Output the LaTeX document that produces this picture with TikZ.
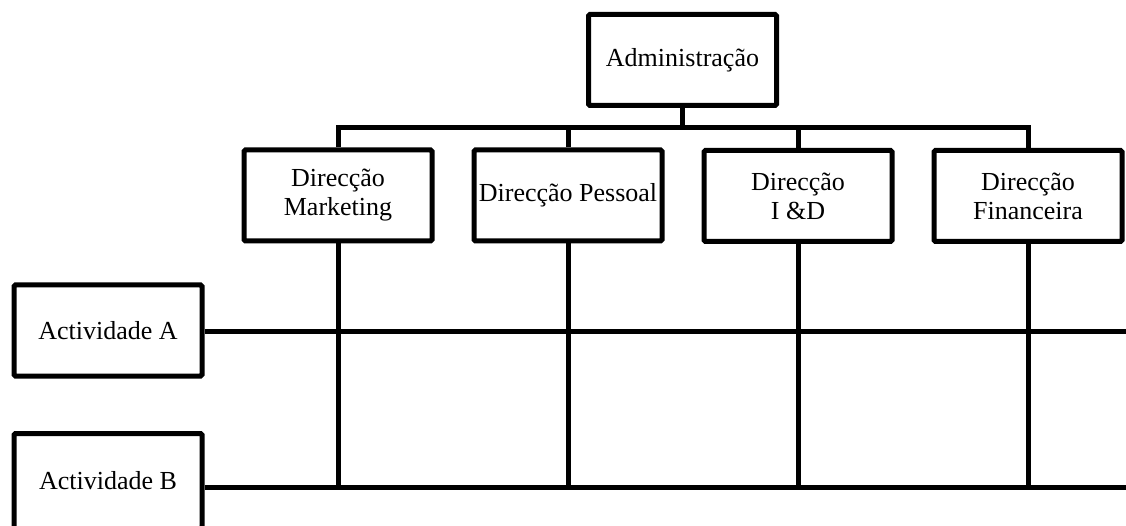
\documentclass[tikz,border=0pt]{standalone}
\usepackage{fontspec}
\setmainfont{Liberation Serif}
\begin{document}
\begin{tikzpicture}[x=1pt,y=-1pt,
  box/.style={draw,line width=5pt,rounded corners=1.5pt,inner sep=0pt,align=center,
    minimum width=188pt,minimum height=91pt,font=\fontsize{26}{29}\selectfont},
  conn/.style={line width=5pt}]
\useasboundingbox (0,0) rectangle (1126,526);
\clip (0,0) rectangle (1126,526);
\fill[white] (0,0) rectangle (1126,526);
\node[box] (adm) at (682.5,60) {Administração};
\node[box] (mk) at (338,195.5) {Direcção\\Marketing};
\node[box] (ps) at (568,195.5) {Direcção Pessoal};
\node[box] (id) at (798,196) {Direcção\\I \&D};
\node[box] (fin) at (1028,196) {Direcção\\Financeira};
\node[box] (aa) at (108,330.5) {Actividade A};
\node[box,minimum height=95pt] (ab) at (108,481) {Actividade B};
\coordinate (bus) at (682.5,128);
\coordinate (ra) at (1126,331);
\coordinate (rb) at (1126,487);
% hierarchy
\draw[conn] (adm.south) -- (bus);
\draw[conn] (mk.north) |- (bus) -| (fin.north);
\draw[conn] (ps.north) -- (ps.north |- bus);
\draw[conn] (id.north) -- (id.north |- bus);
% matrix lines
\draw[conn] (aa.east |- ra) -- (ra);
\draw[conn] (ab.east |- rb) -- (rb);
\draw[conn] (mk.south) -- (mk.south |- rb);
\draw[conn] (ps.south) -- (ps.south |- rb);
\draw[conn] (id.south) -- (id.south |- rb);
\draw[conn] (fin.south) -- (fin.south |- rb);
\end{tikzpicture}
\end{document}
